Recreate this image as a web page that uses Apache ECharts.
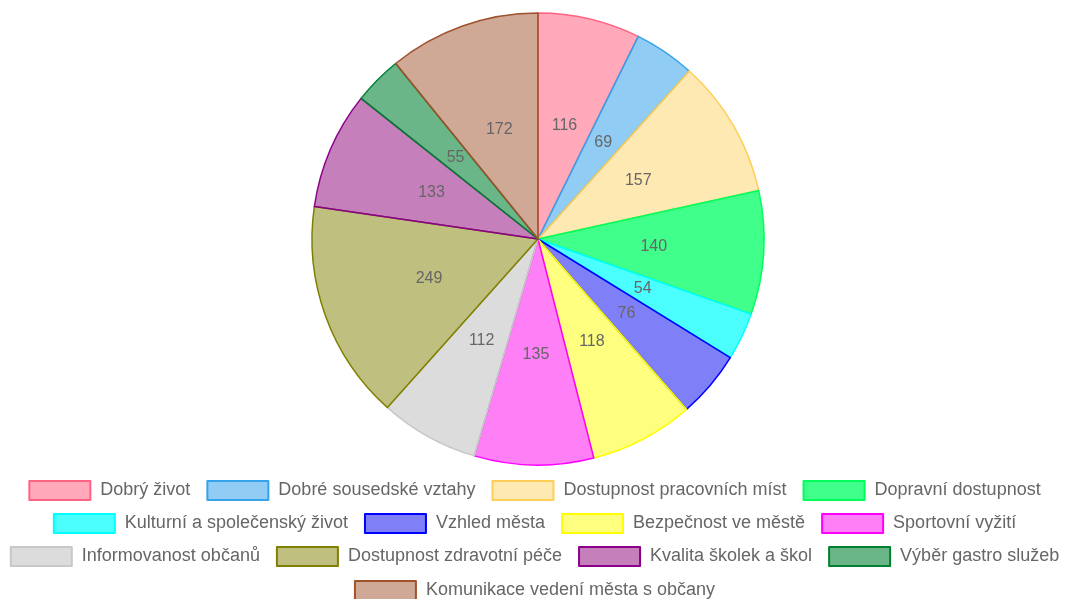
<!DOCTYPE html>
<html>
<head>
<meta charset="utf-8">
<script src="https://cdn.jsdelivr.net/npm/echarts@6/dist/echarts.min.js"></script>
<style>
  html, body { margin: 0; padding: 0; background: #fff; }
  #chart { width: 1069px; height: 599px; }
</style>
</head>
<body>
<div id="chart"></div>
<script>
// kategorie a hodnoty
var categories = [
    'Dobrý život', 'Dobré sousedské vztahy', 'Dostupnost pracovních míst', 'Dopravní dostupnost',
    'Kulturní a společenský život', 'Vzhled města', 'Bezpečnost ve městě', 'Sportovní vyžití',
    'Informovanost občanů', 'Dostupnost zdravotní péče', 'Kvalita školek a škol', 'Výběr gastro služeb',
    'Komunikace vedení města s občany'
];
var values = [116, 69, 157, 140, 54, 76, 118, 135, 112, 249, 133, 55, 172];
var fillColors = [
    'rgba(255,99,132,0.55)', 'rgba(54,162,235,0.55)', 'rgba(255,206,86,0.45)', 'rgba(0,255,100,0.75)',
    'rgba(0,255,255,0.7)', 'rgba(0,0,240,0.5)', 'rgba(255,255,0,0.5)', 'rgba(255,0,240,0.5)',
    'rgba(192,192,192,0.55)', 'rgba(128,128,0,0.5)', 'rgba(140,0,120,0.5)', 'rgba(0,130,50,0.58)',
    'rgba(160,82,45,0.5)'
];
var borderColors = [
    '#ff6384', '#36a2eb', '#ffce56', '#00ff5a',
    '#00ffff', '#0000ff', '#ffff00', '#ff00ff',
    '#c8c8c8', '#808000', '#8b008b', '#008030',
    '#a0522d'
];
// legend rows as in the original
var legendRows = [
    categories.slice(0, 4),
    categories.slice(4, 8),
    categories.slice(8, 12),
    categories.slice(12)
];
var legendTops = [480, 513, 546, 580];

var pieData = categories.map(function (name, i) {
    return {
        name: name,
        value: values[i],
        itemStyle: { color: fillColors[i], borderColor: borderColors[i], borderWidth: 1.5 }
    };
});

var chart = echarts.init(document.getElementById('chart'));

var legends = legendRows.map(function (row, i) {
    return {
        data: row,
        top: legendTops[i],
        left: 'center',
        orient: 'horizontal',
        icon: 'rect',
        itemWidth: 61,
        itemHeight: 19,
        itemGap: 16,
        selectedMode: false,
        padding: 0,
        itemStyle: { borderWidth: 2 },
        textStyle: {
            color: '#666',
            fontSize: 18,
            fontFamily: 'Arial, "Liberation Sans", sans-serif',
            padding: [0, 0, 0, 5],
            lineHeight: 19
        }
    };
});

var option = {
    backgroundColor: '#ffffff',
    animation: false,
    legend: legends,
    series: [{
        type: 'pie',
        center: [538, 239],
        radius: [0, 226],
        startAngle: 90,
        clockwise: true,
        data: pieData,
        label: {
            show: true,
            position: 'inside',
            formatter: '{c}',
            color: '#666',
            fontSize: 16,
            fontFamily: 'Arial, "Liberation Sans", sans-serif'
        },
        labelLine: { show: false },
        emphasis: { disabled: true }
    }]
};

chart.setOption(option);
</script>
</body>
</html>
